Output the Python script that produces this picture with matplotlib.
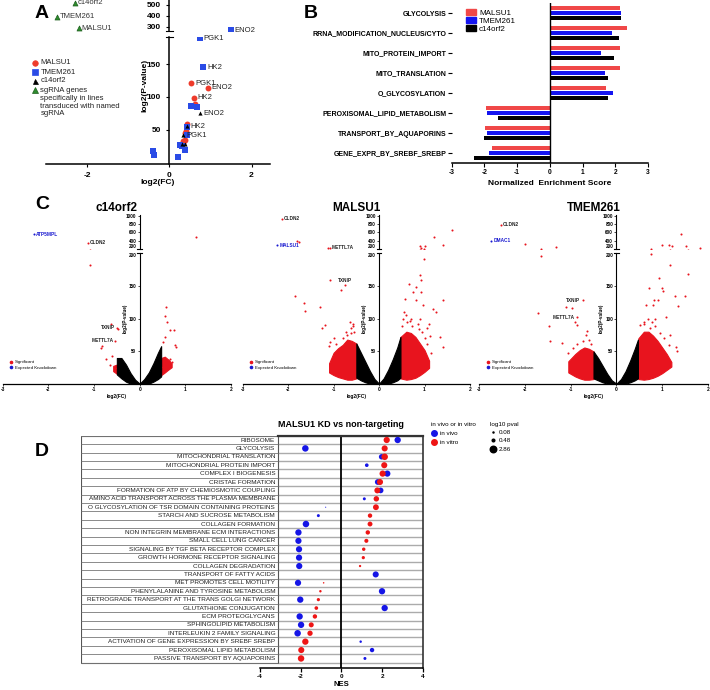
import numpy as np
import matplotlib

matplotlib.use("Agg")
import matplotlib.pyplot as plt
from matplotlib.lines import Line2D
from matplotlib.patches import Patch, Rectangle

W, H = 710, 690

# ---- panel A: glycolysis genes -------------------------------------------
A_MALSU1_FC = [0.54, 0.95, 0.61, 0.63, 0.42, 0.41, 0.38, 0.34, 0.37, 0.33]
A_MALSU1_P = [121, 114, 98.5, 89, 58.5, 47.5, 44, 32.5, 33.5, 30]
A_MALSU1_LABELS = {0: "PGK1", 1: "ENO2", 2: "HK2"}
A_TMEM_FC = [1.50, 0.75, 0.83, 0.53, 0.68, 0.44, 0.42, 0.26, 0.30, 0.37, 0.22, -0.39, -0.37]
A_TMEM_P = [265, 190, 146, 86, 85, 53.5, 41.5, 26.5, 25, 18.5, 8.5, 17.5, 11]
A_TMEM_LABELS = {0: "ENO2", 1: "PGK1", 2: "HK2"}
A_C14_FC = [0.75, 0.42, 0.33, 0.30, 0.38]
A_C14_P = [75, 55, 41.5, 27.5, 27.5]
A_C14_LABELS = {0: "ENO2", 1: "HK2", 2: "PGK1"}
A_SG_GENES = ["c14orf2", "TMEM261", "MALSU1"]
A_SG_FC = [-2.30, -2.73, -2.20]
A_SG_P = [521, 392, 285]
A_LEGEND = ["MALSU1", "TMEM261", "c14orf2", "sgRNA genes"]
A_LEGEND_NOTE = ["specifically in lines", "transduced with named", "sgRNA"]

# ---- panel B: GSEA NES ---------------------------------------------------
B_TERMS = ["GLYCOLYSIS", "RRNA_MODIFICATION_NUCLEUS/CYTO", "MITO_PROTEIN_IMPORT",
           "MITO_TRANSLATION", "O_GLYCOSYLATION", "PEROXISOMAL_LIPID_METABOLISM",
           "TRANSPORT_BY_AQUAPORINS", "GENE_EXPR_BY_SREBF_SREBP"]
B_MALSU1 = [2.14, 2.37, 2.14, 2.14, 1.73, -1.96, -1.98, -1.77]
B_TMEM261 = [2.19, 1.91, 1.55, 1.68, 1.92, -1.92, -1.93, -1.87]
B_C14ORF2 = [2.16, 2.11, 1.96, 1.78, 1.77, -1.58, -2.02, -2.33]

# ---- panel C: volcano plots ---------------------------------------------
CORE_FC = [-0.50, -0.40, -0.30, -0.20, -0.10, 0.0, 0.10, 0.20, 0.30, 0.40, 0.47]

C14_CORE_TOP = [40, 40, 30, 17, 7, 1, 8, 18, 32, 48, 58]
C14_CORE_LOW = [15, 9, 4, 1, 0, 0, 0, 1, 4, 8, 12]
C14_LEFT_FC = [-0.58, -0.50]
C14_LEFT_TOP = [28, 30]
C14_LEFT_LOW = [20, 16]
C14_RIGHT_FC = [0.47, 0.55, 0.62, 0.70]
C14_RIGHT_TOP = [40, 42, 38, 32]
C14_RIGHT_LOW = [14, 18, 22, 26]
C14_SIG_FC = [-1.13, -1.08, -0.62, -0.50, -0.47, -0.53, -0.82, -0.84, -0.60, -0.73,
              -0.64, -0.55, 1.24, 0.58, 0.56, 0.60, 0.66, 0.75, 0.56, 0.51, 0.77,
              0.80, 0.66, 0.55, 0.58, 0.51, 0.62, 0.70, 0.64]
C14_SIG_P = [345, 182, 92, 86, 84, 66, 58, 55, 43, 38, 29, 25, 480, 118, 104, 94,
             82, 83, 72, 65, 60, 56, 39, 34, 32, 27, 30, 34, 36]
C14_LABELS = {0: ("CLDN2", "r"), 3: ("TXNIP", "l"), 5: ("METTL7A", "l")}
C14_KD = ("ATP5MPL", -2.31, 560)

MAL_CORE_TOP = [62, 48, 34, 20, 8, 1, 9, 22, 38, 56, 72]
MAL_CORE_LOW = [10, 6, 3, 1, 0, 0, 0, 1, 3, 6, 10]
MAL_LEFT_FC = [-1.10, -1.00, -0.90, -0.80, -0.70, -0.60, -0.50]
MAL_LEFT_TOP = [32, 48, 55, 60, 68, 66, 62]
MAL_LEFT_LOW = [18, 14, 11, 9, 7, 7, 9]
MAL_RIGHT_FC = [0.47, 0.60, 0.70, 0.80, 0.90, 1.00, 1.10]
MAL_RIGHT_TOP = [72, 80, 78, 72, 62, 52, 36]
MAL_RIGHT_LOW = [9, 7, 8, 10, 14, 19, 25]
MAL_SIG_FC = [-2.14, -1.80, -1.77, -1.12, -1.09, -0.74, -1.09, -0.84, -1.85, -1.65,
              -1.63, -1.31, -1.25, -1.19, -1.07, -0.62, -0.55, -0.70, -0.58, 1.61,
              1.21, 1.41, 0.90, 0.93, 1.00, 0.99, 0.90, 0.92, 0.66, 0.82, 0.75,
              0.93, 0.58, 0.82, 0.96, 1.41, 1.19, 1.26, 1.10, 1.12, 1.34, 1.40,
              1.15, 0.62, 0.70, 1.05, 0.55,
              0.52, 0.60, 0.68, 0.73, 0.85, 0.88, 0.95, 1.00, 0.78, 0.57, 0.64,
              1.05, 0.90, 0.50, -0.65, -0.58, -0.72, -0.80, -0.95, -1.10, -0.62,
              -1.00]
MAL_SIG_P = [935, 400, 360, 225, 225, 151, 159, 143, 134, 124, 112, 117, 85, 90,
             65, 85, 80, 75, 88, 655, 480, 295, 280, 230, 270, 190, 166, 158, 153,
             148, 140, 140, 130, 128, 120, 128, 115, 110, 92, 74, 72, 56, 48, 95,
             100, 85, 110,
             100, 105, 96, 88, 92, 84, 80, 70, 65, 70, 62, 62, 100, 88, 95, 92, 80,
             70, 62, 58, 78, 70]
MAL_LABELS = {0: ("CLDN2", "r"), 4: ("METTL7A", "r"), 5: ("TXNIP", "t")}
MAL_KD = ("MALSU1", -2.24, 295)

TM_CORE_TOP = [50, 40, 28, 16, 6, 1, 8, 20, 36, 54, 68]
TM_CORE_LOW = [9, 6, 3, 1, 0, 0, 0, 1, 3, 6, 9]
TM_LEFT_FC = [-1.05, -0.90, -0.80, -0.70, -0.60, -0.50]
TM_LEFT_TOP = [35, 46, 52, 56, 54, 50]
TM_LEFT_LOW = [18, 12, 9, 7, 7, 8]
TM_RIGHT_FC = [0.48, 0.60, 0.70, 0.80, 0.90, 1.00, 1.10, 1.20]
TM_RIGHT_TOP = [70, 80, 80, 74, 66, 56, 46, 34]
TM_RIGHT_LOW = [8, 7, 8, 10, 13, 17, 22, 27]
TM_SIG_FC = [-2.53, -2.00, -1.31, -1.65, -0.74, -1.10, -0.96, -1.71, -0.87, -0.91,
             -0.87, -1.48, -0.64, -1.44, -1.19, 1.40, 1.00, 1.14, 1.21, 1.53, 1.82,
             0.75, 1.16, 1.56, 0.93, 0.71, 1.00, 1.02, 1.50, 1.29, 0.82, 0.91,
             0.65, 0.79, 1.35, 1.09, 0.85, 0.78, 1.30, 1.32, 1.18, 0.60,
             0.52, 0.60, 0.68, 0.74, 0.85, 0.95, 1.05, 1.15, 0.58, 0.80, -0.60,
             -0.66, -0.72, -0.85, -0.95, -1.05, -0.55]
TM_SIG_P = [780, 320, 255, 195, 128, 118, 116, 109, 102, 94, 90, 89, 81, 66, 63,
            572, 285, 285, 280, 270, 235, 198, 181, 167, 162, 147, 147, 142, 135,
            134, 128, 128, 120, 121, 119, 102, 100, 95, 57, 50, 75, 92,
            90, 95, 100, 85, 88, 78, 70, 60, 72, 62, 68, 75, 66, 62, 55, 48, 62]
TM_LABELS = {0: ("CLDN2", "r"), 4: ("TXNIP", "l"), 8: ("METTL7A", "l")}
TM_KD = ("DMAC1", -2.73, 400)

# ---- panel D: in vivo / in vitro NES ------------------------------------
D_TERMS = ["RIBOSOME", "GLYCOLYSIS", "MITOCHONDRIAL TRANSLATION",
           "MITOCHONDRIAL PROTEIN IMPORT", "COMPLEX I BIOGENESIS", "CRISTAE FORMATION",
           "FORMATION OF ATP BY CHEMIOSMOTIC COUPLING",
           "AMINO ACID TRANSPORT ACROSS THE PLASMA MEMBRANE",
           "O GLYCOSYLATION OF TSR DOMAIN CONTAINING PROTEINS",
           "STARCH AND SUCROSE METABOLISM", "COLLAGEN FORMATION",
           "NON INTEGRIN MEMBRANE ECM INTERACTIONS", "SMALL CELL LUNG CANCER",
           "SIGNALING BY TGF BETA RECEPTOR COMPLEX", "GROWTH HORMONE RECEPTOR SIGNALING",
           "COLLAGEN DEGRADATION", "TRANSPORT OF FATTY ACIDS", "MET PROMOTES CELL MOTILITY",
           "PHENYLALANINE AND TYROSINE METABOLISM",
           "RETROGRADE TRANSPORT AT THE TRANS GOLGI NETWORK", "GLUTATHIONE CONJUGATION",
           "ECM PROTEOGLYCANS", "SPHINGOLIPID METABOLISM", "INTERLEUKIN 2 FAMILY SIGNALING",
           "ACTIVATION OF GENE EXPRESSION BY SREBF SREBP", "PEROXISOMAL LIPID METABOLISM",
           "PASSIVE TRANSPORT BY AQUAPORINS"]
D_VIVO_NES = [2.77, -1.77, 1.98, 1.25, 2.26, 1.79, 1.93, 1.13, -0.77, -1.13, -1.74,
              -2.11, -2.11, -2.08, -2.08, -2.07, 1.69, -2.13, 2.00, -2.02, 2.13,
              -2.05, -1.98, -2.15, 0.95, 1.51, 1.16]
D_VIVO_P = [2.7, 2.86, 2.0, 0.9, 2.6, 2.2, 2.2, 0.6, 0.08, 0.6, 2.86, 2.7, 2.6, 2.6,
            2.6, 2.6, 2.5, 2.6, 2.7, 2.7, 2.7, 2.7, 2.7, 2.86, 0.4, 1.3, 0.6]
D_VITRO_NES = [2.23, 2.13, 2.13, 2.11, 2.03, 1.90, 1.77, 1.72, 1.70, 1.41, 1.41,
               1.30, 1.23, 1.10, 1.08, 0.92, np.nan, -0.87, -1.03, -1.13, -1.23,
               -1.30, -1.48, -1.54, -1.77, -1.97, -1.98]
D_VITRO_P = [2.6, 2.5, 2.86, 2.5, 2.6, 2.5, 2.4, 2.0, 2.3, 1.3, 1.6, 1.3, 1.1, 0.8,
             0.7, 0.35, np.nan, 0.15, 0.4, 0.7, 0.9, 1.3, 1.7, 1.9, 2.7, 2.5, 2.8]
D_SIZE_KEYS = [0.08, 0.48, 2.86]

RED_A, BLUE_A, GREEN_A = "#ee3b2b", "#2a4be6", "#2e8b2e"
RED_B, BLUE_B = "#f04848", "#1414f0"
RED_C, BLUE_C = "#e8141e", "#1a1ad0"
RED_D, BLUE_D = "#ee1515", "#1515e6"
SIZE_SCALE = 7.7

plt.rcParams["font.family"] = ["Liberation Sans", "DejaVu Sans"]


def rect(left, top, right, bottom):
    return [left / W, 1 - bottom / H, (right - left) / W, (bottom - top) / H]


def break_marks(lo, hi, size=0.08):
    kw = dict(color="black", lw=0.8, clip_on=False)
    lo.plot([-size, size], [1, 1], transform=lo.get_xaxis_transform(), **kw)
    hi.plot([-size, size], [0, 0], transform=hi.get_xaxis_transform(), **kw)


fig = plt.figure(figsize=(W / 100, H / 100), dpi=100)

# ======================= A =======================
axA_lo = fig.add_axes(rect(46, 36.5, 270, 164))
axA_hi = fig.add_axes(rect(46, 0, 270, 31))
for ax in (axA_lo, axA_hi):
    ax.set_xlim(-3, 2.45)
    ax.patch.set_alpha(0)
    ax.spines[["top", "right"]].set_visible(False)
    ax.spines["left"].set_position(("data", 0))
    ax.spines["left"].set_linewidth(1.1)
    ax.tick_params(width=0.8, length=2.5)
axA_hi.spines["bottom"].set_visible(False)
axA_hi.set_xticks([])
axA_lo.spines["bottom"].set_linewidth(1.1)
axA_lo.set_ylim(-3, 193)
axA_hi.set_ylim(260, 546)
axA_lo.set_yticks([50, 100, 150], labels=["50", "100", "150"], fontsize=6, fontweight="bold")
axA_hi.set_yticks([300, 400, 500], labels=["300", "400", "500"], fontsize=6, fontweight="bold")
axA_lo.set_xticks([-2, 0, 2], labels=["-2", "0", "2"], fontsize=6, fontweight="bold")
axA_lo.set_xlabel("log2(FC)", fontsize=6, fontweight="bold", labelpad=0)
axA_lo.set_ylabel("log2(P-value)", fontsize=6, fontweight="bold")
axA_lo.yaxis.set_label_coords(0.455, 0.62)
break_marks(axA_lo, axA_hi)

series_A = [
    (A_MALSU1_FC, A_MALSU1_P, A_MALSU1_LABELS, RED_A, "o", 18),
    (A_TMEM_FC, A_TMEM_P, A_TMEM_LABELS, BLUE_A, "s", 18),
    (A_C14_FC, A_C14_P, A_C14_LABELS, "black", "^", 9),
]
for fc, p, labels, color, marker, size in series_A:
    for ax in (axA_lo, axA_hi):
        ax.scatter(fc, p, s=size, c=color, marker=marker, linewidths=0, zorder=3)
    for i, gene in labels.items():
        ax = axA_hi if p[i] > 255 else axA_lo
        ax.annotate(gene, (fc[i], p[i]), xytext=(2.5, 0), textcoords="offset points",
                    va="center", fontsize=5.5, color="#222222")
axA_hi.scatter(A_SG_FC, A_SG_P, s=13, c=GREEN_A, marker="^", edgecolors="#1d5e1d",
               linewidths=0.5, zorder=3, clip_on=False)
for gene, fc, p in zip(A_SG_GENES, A_SG_FC, A_SG_P):
    axA_hi.annotate(gene, (fc, p), xytext=(2, 0), textcoords="offset points",
                    va="center", fontsize=5.5, color="#333333", annotation_clip=False)

# legend of panel A, drawn entry by entry (9 px apart, note lines below)
legend_styles = [("o", RED_A, RED_A, 4.0), ("s", BLUE_A, BLUE_A, 3.8),
                 ("^", "black", "black", 3.6), ("^", GREEN_A, "#1d5e1d", 4.0)]
for k, (label, (mk, fc_, ec_, ms)) in enumerate(zip(A_LEGEND, legend_styles)):
    y_px = 63 + 9 * k
    fig.add_artist(Line2D([35 / W], [1 - y_px / H], transform=fig.transFigure, ls="",
                          marker=mk, markersize=ms, markerfacecolor=fc_,
                          markeredgecolor=ec_, markeredgewidth=0.5))
    fig.text(40.5 / W, 1 - y_px / H, label, fontsize=5.5, va="center", ha="left",
             color="#222222")
for k, line in enumerate(A_LEGEND_NOTE):
    fig.text(40.5 / W, 1 - (98.5 + 7.6 * k) / H, line, fontsize=5.5, va="center",
             ha="left", color="#222222")

# ======================= B =======================
axB = fig.add_axes(rect(451.7, 3, 648, 163))
yB = np.arange(len(B_TERMS))
axB.barh(yB - 0.27, B_MALSU1, height=0.2, color=RED_B, label="MALSU1")
axB.barh(yB, B_TMEM261, height=0.2, color=BLUE_B, label="TMEM261")
axB.barh(yB + 0.27, B_C14ORF2, height=0.2, color="black", label="c14orf2")
axB.set_xlim(-3, 3)
axB.set_ylim(len(B_TERMS) - 0.5, -0.5)
axB.axvline(0, color="black", lw=1)
axB.spines[["top", "right", "left"]].set_visible(False)
axB.spines["bottom"].set_linewidth(1.1)
axB.set_yticks(yB, labels=B_TERMS, fontsize=5, fontweight="bold")
axB.set_xticks(range(-3, 4), labels=[str(v) for v in range(-3, 4)], fontsize=4.8,
               fontweight="bold")
axB.tick_params(axis="y", length=3, width=0.8, pad=1)
axB.tick_params(axis="x", length=3, width=0.8, pad=1.5)
axB.set_xlabel("Normalized  Enrichment Score", fontsize=6, fontweight="bold", labelpad=3)
axB.legend(handles=[Patch(color=RED_B, label="MALSU1"), Patch(color=BLUE_B, label="TMEM261"),
                    Patch(color="black", label="c14orf2")],
           loc="upper left", bbox_to_anchor=(462 / W, 1 - 5 / H),
           bbox_transform=fig.transFigure, frameon=False, fontsize=5.8,
           handlelength=1.2, handleheight=0.7, handletextpad=0.4, labelspacing=0.05,
           borderpad=0)

# ======================= C =======================


def volcano(left, right, title, core_top, core_low, lf, lt, ll, rf, rt, rl,
            sig_fc, sig_p, labels, kd):
    lo = fig.add_axes(rect(left, 252.8, right, 384.3))
    hi = fig.add_axes(rect(left, 215, right, 249.0))
    for ax in (lo, hi):
        ax.set_xlim(-3, 2)
        ax.patch.set_alpha(0)
        ax.spines[["top", "right"]].set_visible(False)
        ax.spines["left"].set_position(("data", 0))
        ax.spines["left"].set_linewidth(0.8)
        ax.tick_params(width=0.5, length=1.5, pad=0.8)
    hi.spines["bottom"].set_visible(False)
    hi.set_xticks([])
    lo.spines["bottom"].set_linewidth(0.9)
    lo.set_ylim(0, 200)
    hi.set_ylim(200, 1020)
    lo.set_yticks([50, 100, 150, 200], labels=["50", "100", "150", "200"],
                  fontsize=3.3, fontweight="bold")
    hi.set_yticks([200, 400, 600, 800, 1000],
                  labels=["200", "400", "600", "800", "1000"], fontsize=3.3,
                  fontweight="bold")
    lo.get_yticklabels()[-1].set_verticalalignment("top")
    hi.get_yticklabels()[0].set_verticalalignment("bottom")
    lo.set_xticks(range(-3, 3), labels=[str(v) for v in range(-3, 3)], fontsize=3.5,
                  fontweight="bold")
    lo.set_xlabel("log2(FC)", fontsize=3.5, fontweight="bold", labelpad=1)
    lo.set_ylabel("log2(P-value)", fontsize=3.3, fontweight="bold", labelpad=1)
    break_marks(lo, hi, 0.05)

    lo.fill_between(lf, ll, lt, color=RED_C, lw=0.8)
    lo.fill_between(rf, rl, rt, color=RED_C, lw=0.8)
    lo.fill_between(CORE_FC, core_low, core_top, color="black", lw=0.8)
    for ax in (lo, hi):
        ax.scatter(sig_fc, sig_p, s=2.2, c=RED_C, linewidths=0, zorder=3)
        ax.scatter([kd[1]], [kd[2]], s=2.2, c=BLUE_C, linewidths=0, zorder=3)
    for i, (gene, side) in labels.items():
        ax = hi if sig_p[i] > 200 else lo
        if side == "r":
            off, ha, va = (1.5, 0), "left", "center"
        elif side == "l":
            off, ha, va = (-1.5, 0), "right", "center"
        else:
            off, ha, va = (0, 1.5), "center", "bottom"
        ax.annotate(gene, (sig_fc[i], sig_p[i]), xytext=off, textcoords="offset points",
                    ha=ha, va=va, fontsize=3.4, fontweight="bold", color="#222222")
    hi.annotate(kd[0], (kd[1], kd[2]), xytext=(1.5, 0), textcoords="offset points",
                va="center", fontsize=3.4, fontweight="bold", color=BLUE_C)
    hi.set_title(title, fontsize=8.5, fontweight="bold", pad=3)
    lo.legend(handles=[Line2D([], [], ls="", marker="o", color=RED_C, markersize=1.6,
                              label="Significant"),
                       Line2D([], [], ls="", marker="o", color=BLUE_C, markersize=1.6,
                              label="Expected Knockdown")],
              loc="upper left", bbox_to_anchor=(0.02, 0.2), frameon=False, fontsize=3.2,
              handlelength=0.8, handletextpad=0.5, labelspacing=0.3, borderpad=0)


volcano(2.7, 231, "c14orf2", C14_CORE_TOP, C14_CORE_LOW, C14_LEFT_FC, C14_LEFT_TOP,
        C14_LEFT_LOW, C14_RIGHT_FC, C14_RIGHT_TOP, C14_RIGHT_LOW, C14_SIG_FC, C14_SIG_P,
        C14_LABELS, C14_KD)
volcano(242.7, 470, "MALSU1", MAL_CORE_TOP, MAL_CORE_LOW, MAL_LEFT_FC, MAL_LEFT_TOP,
        MAL_LEFT_LOW, MAL_RIGHT_FC, MAL_RIGHT_TOP, MAL_RIGHT_LOW, MAL_SIG_FC, MAL_SIG_P,
        MAL_LABELS, MAL_KD)
volcano(479, 708, "TMEM261", TM_CORE_TOP, TM_CORE_LOW, TM_LEFT_FC, TM_LEFT_TOP,
        TM_LEFT_LOW, TM_RIGHT_FC, TM_RIGHT_TOP, TM_RIGHT_LOW, TM_SIG_FC, TM_SIG_P,
        TM_LABELS, TM_KD)

# ======================= D =======================
LABEL_LEFT, LABEL_RIGHT = -12.8, -3.13
axD = fig.add_axes(rect(81, 435.8, 422.7, 667.7))
nD = len(D_TERMS)
yD = np.arange(nD)
axD.set_xlim(LABEL_LEFT, 4)
axD.set_ylim(nD + 0.1, -0.5)
bounds = np.arange(nD + 1) - 0.5
axD.hlines(bounds, LABEL_RIGHT, 4, color="#ababab", lw=1.0, zorder=0)
axD.add_patch(Rectangle((LABEL_LEFT, -0.5), LABEL_RIGHT - LABEL_LEFT, nD,
                        facecolor="white", edgecolor="#555555", lw=0.8, zorder=1))
axD.hlines(bounds, LABEL_LEFT, LABEL_RIGHT, color="#777777", lw=0.6, zorder=2)
for i, term in enumerate(D_TERMS):
    axD.text(LABEL_RIGHT - 0.12, i, term, ha="right", va="center", fontsize=4.6,
             color="#222222", zorder=3)
axD.axvline(0, color="black", lw=1.3, zorder=1)
axD.scatter(D_VIVO_NES, yD, s=np.array(D_VIVO_P) * SIZE_SCALE, c=BLUE_D,
            linewidths=0, zorder=3)
axD.scatter(D_VITRO_NES, yD, s=np.array(D_VITRO_P) * SIZE_SCALE, c=RED_D,
            linewidths=0, zorder=4)
axD.spines["left"].set_visible(False)
axD.spines["bottom"].set_bounds(-4, 4)
axD.spines["bottom"].set_linewidth(1.1)
axD.spines["top"].set_bounds(LABEL_RIGHT, 4)
axD.spines["top"].set_linewidth(1.6)
axD.spines["top"].set_color("#333333")
axD.spines["right"].set_linewidth(1.2)
axD.spines["right"].set_color("#333333")
axD.set_yticks([])
axD.set_xticks([-4, -2, 0, 2, 4], labels=["-4", "-2", "0", "2", "4"], fontsize=4.6,
               fontweight="bold")
axD.tick_params(axis="x", length=3, width=0.9, pad=1.5)
axD.set_xlabel("NES", fontsize=5.5, fontweight="bold")
axD.xaxis.set_label_coords((341.3 - 81) / (422.7 - 81), -0.058)
fig.text(341.3 / W, 1 - 424 / H, "MALSU1 KD vs non-targeting", ha="center", va="center",
         fontsize=6.5, fontweight="bold")

leg1 = axD.legend(handles=[Line2D([], [], ls="", marker="o", color=BLUE_D, markersize=4,
                                  label="in vivo"),
                           Line2D([], [], ls="", marker="o", color=RED_D, markersize=4,
                                  label="in vitro")],
                  title="in vivo or in vitro", loc="upper left",
                  bbox_to_anchor=(428 / W, 1 - 419 / H), bbox_transform=fig.transFigure,
                  frameon=False, fontsize=4.5, title_fontsize=4.5, handlelength=0.8,
                  handletextpad=0.6, labelspacing=0.55, borderpad=0)
leg1._legend_box.align = "left"
axD.add_artist(leg1)
leg2 = axD.legend(handles=[Line2D([], [], ls="", marker="o", color="black",
                                  markersize=np.sqrt(v * SIZE_SCALE), label=f"{v:.2f}")
                           for v in D_SIZE_KEYS],
                  title="log10 pval", loc="upper left",
                  bbox_to_anchor=(487 / W, 1 - 419 / H), bbox_transform=fig.transFigure,
                  frameon=False, fontsize=4.5, title_fontsize=4.5, handlelength=0.8,
                  handletextpad=0.6, labelspacing=0.45, borderpad=0)
leg2._legend_box.align = "left"

# panel letters
for letter, x, y in [("A", 42, 13), ("B", 311, 13), ("C", 42, 204), ("D", 42, 452)]:
    fig.text(x / W, 1 - y / H, letter, fontsize=14, fontweight="bold", ha="center",
             va="center")

fig.savefig("out.png", dpi=100)
plt.close(fig)
